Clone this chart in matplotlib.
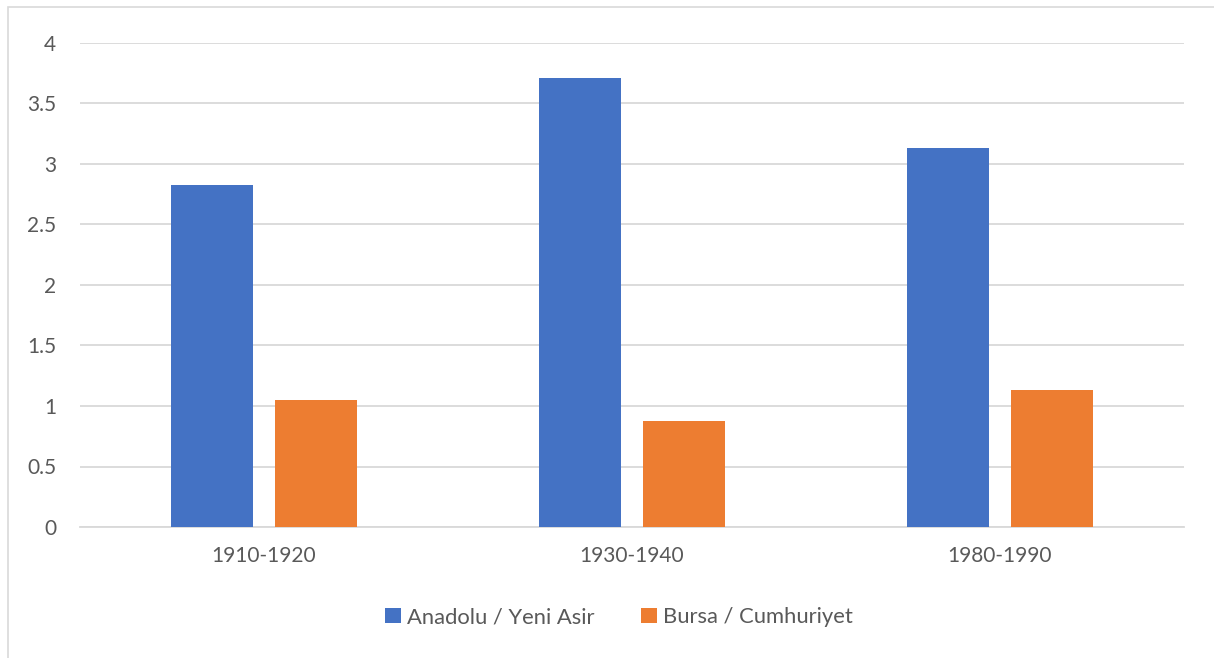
import matplotlib

matplotlib.use("Agg")
import matplotlib.pyplot as plt
import numpy as np
from matplotlib.patches import Rectangle

periods = ["1910-1920", "1930-1940", "1980-1990"]
anadolu_yeni_asir = [2.83, 3.71, 3.13]
bursa_cumhuriyet = [1.05, 0.88, 1.13]
series_labels = ["Anadolu / Yeni Asir", "Bursa / Cumhuriyet"]
y_ticks = [0, 0.5, 1, 1.5, 2, 2.5, 3, 3.5, 4]

BLUE = "#4472C4"
ORANGE = "#ED7D31"
TEXT = "#595959"
GRID = "#D9D9D9"

plt.rcParams["font.family"] = ["Lato", "DejaVu Sans"]

fig = plt.figure(figsize=(12.14, 6.58), dpi=100)
# chart-area frame; only its top and left edges fall inside the image
fig.patches.append(
    Rectangle((8 / 1214, -0.1), 1.2, 0.1 + 1 - 7 / 658, transform=fig.transFigure,
              fill=False, edgecolor=GRID, linewidth=1.2)
)

ax = fig.add_axes([80 / 1214, 1 - 527 / 658, 1104 / 1214, 484 / 658])
x = np.arange(len(periods))
width = 0.223
ax.bar(x - 0.1425, anadolu_yeni_asir, width, color=BLUE, label=series_labels[0], zorder=3)
ax.bar(x + 0.1425, bursa_cumhuriyet, width, color=ORANGE, label=series_labels[1], zorder=3)

ax.set_xlim(-0.5, len(periods) - 0.5)
ax.set_ylim(0, 4)
ax.set_yticks(y_ticks)
ax.set_yticklabels([f"{v:g}" for v in y_ticks])
ax.set_xticks(x)
ax.set_xticklabels(periods)
ax.yaxis.grid(True, color=GRID, linewidth=1.3, zorder=0)
ax.tick_params(axis="both", length=0, labelsize=15, colors=TEXT)
ax.tick_params(axis="y", pad=17)
ax.tick_params(axis="x", pad=14)
for side in ("top", "right", "left"):
    ax.spines[side].set_visible(False)
ax.spines["bottom"].set_color(GRID)
ax.spines["bottom"].set_linewidth(1.3)

fig.legend(loc="center", bbox_to_anchor=(619 / 1214, 1 - 617 / 658), ncol=2,
           frameon=False, fontsize=15.8, labelcolor=TEXT, handlelength=0.72,
           handleheight=0.72, handletextpad=0.3, columnspacing=2.1)

fig.savefig("out.png", dpi=100)
